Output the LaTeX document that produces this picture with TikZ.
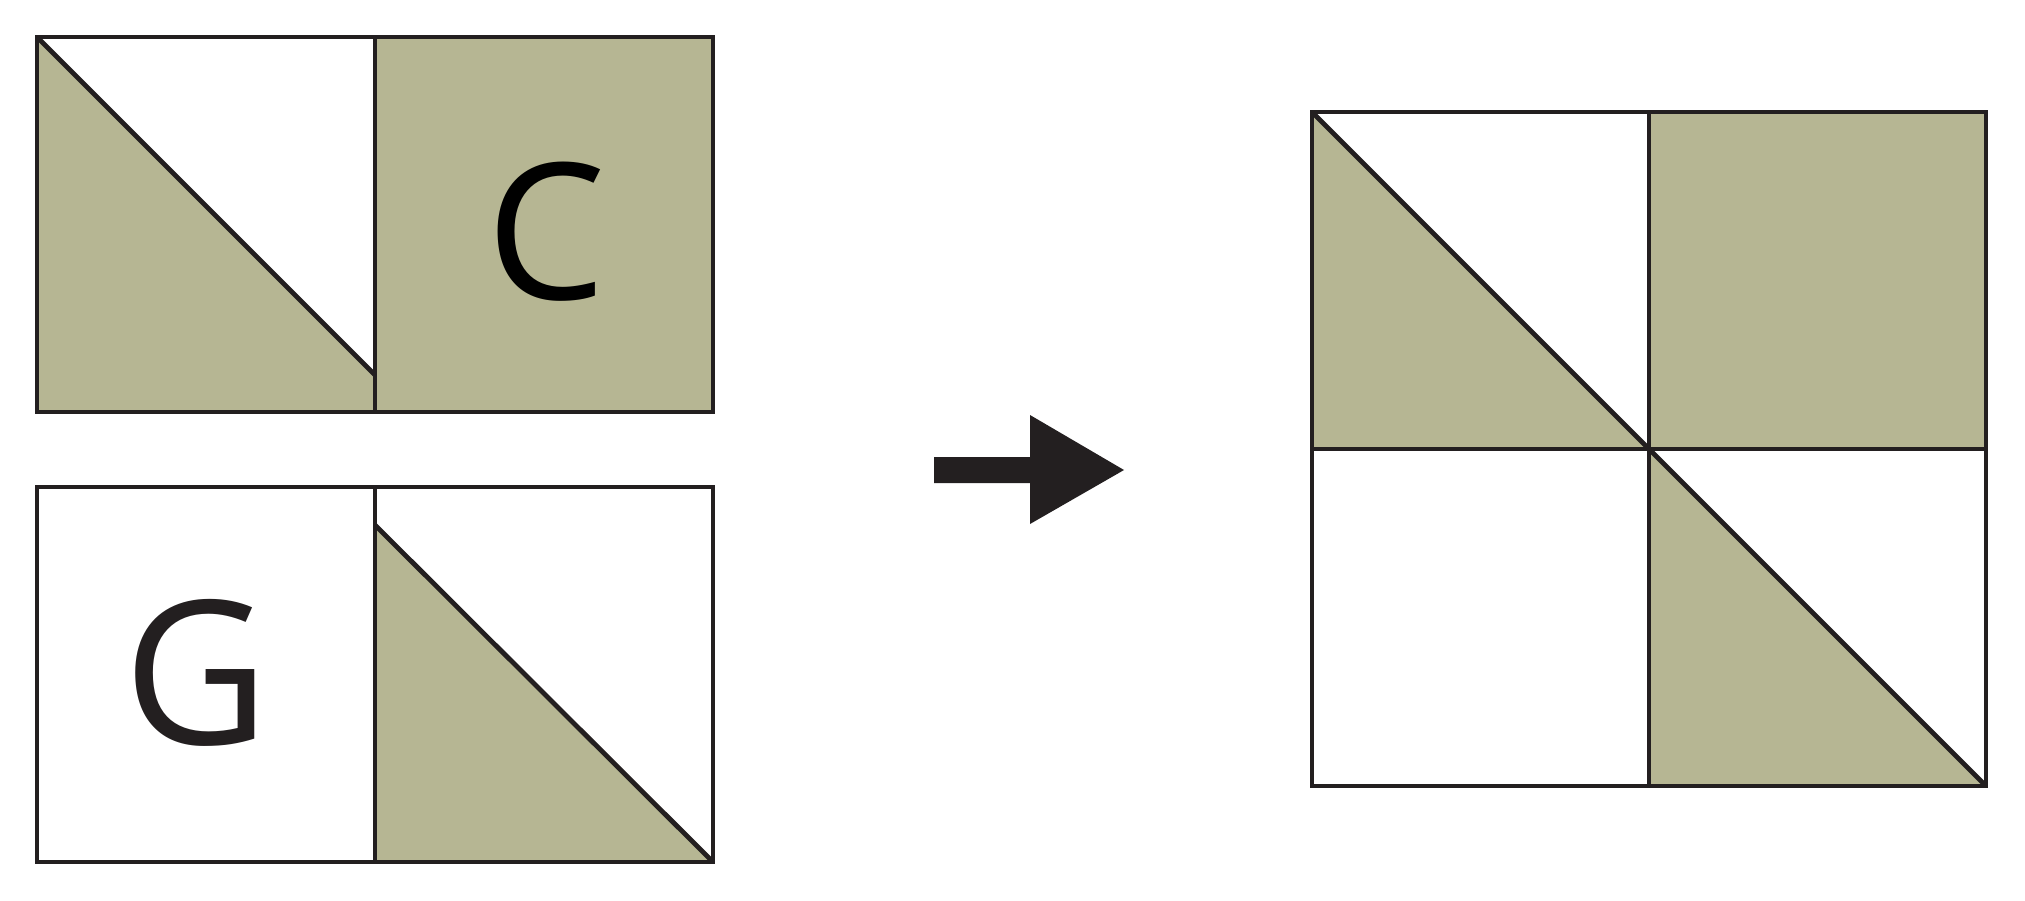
\documentclass[tikz,border=0pt]{standalone}
\usepackage{fontspec}
\setmainfont{Open Sans}
\definecolor{olive}{HTML}{B6B693}
\definecolor{ink}{HTML}{231F20}
\tikzset{
  edge/.style={draw=ink, line width=0.048cm, line join=miter},
  patch/.style={fill=olive},
  letter/.style={inner sep=0pt, text=ink}
}
\begin{document}
\begin{tikzpicture}[x=0.01cm, y=-0.01cm]
\useasboundingbox (0,0) rectangle (2025,900);
% ---- top block ----
\fill[patch] (37,37) -- (375,375) -- (375,37) -- (713,37) -- (713,412) -- (37,412) -- cycle;
\draw[edge] (37,37) rectangle (713,412);
\draw[edge] (375,37) -- (375,412);
\draw[edge] (37,37) -- (375,375);
\node[letter, text=black, font=\fontsize{54}{54}\selectfont] (C) at (546,232) {C};
% ---- bottom block ----
\fill[patch] (375,525) -- (713,862) -- (375,862) -- cycle;
\draw[edge] (37,487) rectangle (713,862);
\draw[edge] (375,487) -- (375,862);
\draw[edge] (375,525) -- (713,862);
\node[letter, font=\fontsize{57}{57}\selectfont] (G) at (196,673) {G};
% ---- arrow ----
\fill[ink] (934,457) -- (1030,457) -- (1030,415) -- (1124,470) -- (1030,524) -- (1030,483) -- (934,483) -- cycle;
% ---- result block ----
\fill[patch] (1312,112) -- (1649,449) -- (1312,449) -- cycle;
\fill[patch] (1649,112) rectangle (1986,449);
\fill[patch] (1649,449) -- (1986,786) -- (1649,786) -- cycle;
\draw[edge] (1312,112) rectangle (1986,786);
\draw[edge] (1649,112) -- (1649,786);
\draw[edge] (1312,449) -- (1986,449);
\draw[edge] (1312,112) -- (1986,786);
\end{tikzpicture}
\end{document}
